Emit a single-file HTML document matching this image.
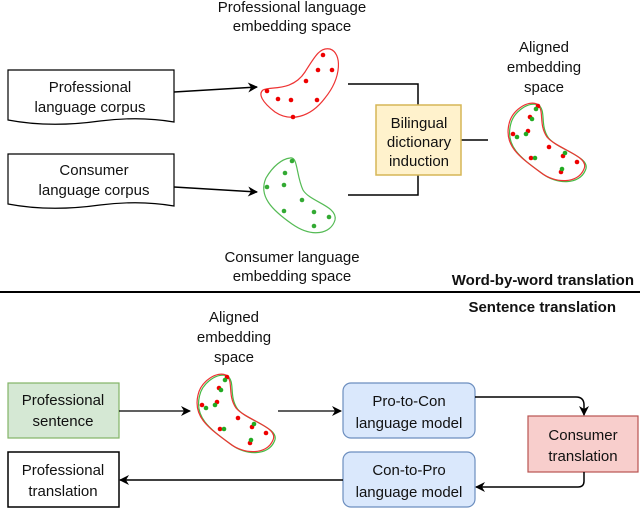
<!DOCTYPE html>
<html><head><style>body{margin:0;background:#fff}svg{display:block}text{font-family:"Liberation Sans",sans-serif;font-size:15px;fill:#111;text-anchor:middle}</style></head><body>
<svg width="640" height="509" viewBox="0 0 640 509">
<defs><marker id="a" markerWidth="10" markerHeight="10" refX="9" refY="5" orient="auto" markerUnits="userSpaceOnUse"><path d="M0,0 L10,5 L0,10 L3,5 Z" fill="#000"/></marker></defs>
<text x="292" y="12">Professional language</text><text x="292" y="31">embedding space</text>
<text x="544" y="52">Aligned</text><text x="544" y="72">embedding</text><text x="544" y="92">space</text>
<text x="292" y="262">Consumer language</text><text x="292" y="281">embedding space</text>
<text x="634" y="285" style="font-weight:bold;text-anchor:end">Word-by-word translation</text>
<path d="M8,70 H174 V122 Q140,116 100,121 Q50,128 8,120 Z" fill="#fff" stroke="#000" stroke-width="1.2"/>
<text x="90" y="92">Professional</text><text x="90" y="112">language corpus</text>
<path d="M8,154 H174 V206 Q140,200 100,205 Q50,212 8,204 Z" fill="#fff" stroke="#000" stroke-width="1.2"/>
<text x="94" y="175">Consumer</text><text x="94" y="195">language corpus</text>
<line x1="174" y1="92" x2="257" y2="87" stroke="#000" stroke-width="1.5" marker-end="url(#a)"/>
<line x1="174" y1="187" x2="257" y2="192" stroke="#000" stroke-width="1.5" marker-end="url(#a)"/>
<path d="M263,90 C270,86 292,92 305,72 C315,56 320,47 330,49 C342,53 342,77 325,98 C310,118 290,122 275,112 C262,102 258,94 263,90 Z" fill="none" stroke="#e33" stroke-width="1.2"/>
<g fill="#e00"><circle cx="323" cy="55" r="2.3"/><circle cx="318" cy="70" r="2.3"/><circle cx="332" cy="70" r="2.3"/><circle cx="306" cy="81" r="2.3"/><circle cx="267" cy="91" r="2.3"/><circle cx="278" cy="99" r="2.3"/><circle cx="291" cy="100" r="2.3"/><circle cx="317" cy="100" r="2.3"/><circle cx="293" cy="117" r="2.3"/></g>
<path d="M290,158 C298,156 296,175 303,190 C310,202 338,206 335,220 C331,234 312,238 292,224 C272,210 258,196 266,178 C273,166 282,159 290,158 Z" fill="none" stroke="#5b5" stroke-width="1.2"/>
<g fill="#3a3"><circle cx="292" cy="161" r="2.3"/><circle cx="285" cy="173" r="2.3"/><circle cx="267" cy="187" r="2.3"/><circle cx="284" cy="185" r="2.3"/><circle cx="302" cy="200" r="2.3"/><circle cx="284" cy="211" r="2.3"/><circle cx="314" cy="212" r="2.3"/><circle cx="329" cy="217" r="2.3"/><circle cx="314" cy="226" r="2.3"/></g>
<path d="M348,84 H418 V105 M348,195 H418 V175 M461,140 H488" fill="none" stroke="#000" stroke-width="1.5"/>
<rect x="376" y="105" width="85" height="70" fill="#fff2cc" stroke="#d6b656" stroke-width="1.5"/>
<text x="419" y="128">Bilingual</text><text x="419" y="147">dictionary</text><text x="419" y="166">induction</text>
<g id="al">
<path d="M509,124 C512,110 528,100 537,104 C545,110 538,124 547,137 C557,149 590,156 584,169 C578,184 555,184 540,172 C518,156 504,145 509,124 Z" fill="none" stroke="#4b4" stroke-width="1.2" transform="translate(1.5,1)"/>
<path d="M509,124 C512,110 528,100 537,104 C545,110 538,124 547,137 C557,149 590,156 584,169 C578,184 555,184 540,172 C518,156 504,145 509,124 Z" fill="none" stroke="#e33" stroke-width="1.2"/>
<g fill="#e00"><circle cx="538" cy="106" r="2.3"/><circle cx="530" cy="117" r="2.3"/><circle cx="528" cy="131" r="2.3"/><circle cx="513" cy="134" r="2.3"/><circle cx="549" cy="147" r="2.3"/><circle cx="531" cy="158" r="2.3"/><circle cx="563" cy="156" r="2.3"/><circle cx="577" cy="162" r="2.3"/><circle cx="561" cy="172" r="2.3"/></g>
<g fill="#2a2"><circle cx="536" cy="109" r="2.3"/><circle cx="532" cy="119" r="2.3"/><circle cx="526" cy="134" r="2.3"/><circle cx="517" cy="137" r="2.3"/><circle cx="535" cy="158" r="2.3"/><circle cx="565" cy="153" r="2.3"/><circle cx="562" cy="169" r="2.3"/></g>
</g>
<line x1="0" y1="292" x2="640" y2="292" stroke="#000" stroke-width="2"/>
<text x="616" y="312" style="font-weight:bold;text-anchor:end">Sentence translation</text>
<text x="234" y="322">Aligned</text><text x="234" y="342">embedding</text><text x="234" y="362">space</text>
<use href="#al" transform="translate(-311,271)"/>
<rect x="8" y="383" width="111" height="55" fill="#d5e8d4" stroke="#82b366" stroke-width="1.2"/>
<text x="63" y="405">Professional</text><text x="63" y="426">sentence</text>
<line x1="119" y1="411" x2="190" y2="411" stroke="#000" stroke-width="1.2" marker-end="url(#a)"/>
<line x1="278" y1="411" x2="341" y2="411" stroke="#000" stroke-width="1.2" marker-end="url(#a)"/>
<rect x="343" y="383" width="132" height="55" rx="8" fill="#dae8fc" stroke="#6c8ebf" stroke-width="1.2"/>
<text x="409" y="406">Pro-to-Con</text><text x="409" y="428">language model</text>
<rect x="343" y="452" width="132" height="55" rx="8" fill="#dae8fc" stroke="#6c8ebf" stroke-width="1.2"/>
<text x="409" y="475">Con-to-Pro</text><text x="409" y="497">language model</text>
<rect x="528" y="416" width="110" height="56" fill="#f8cecc" stroke="#b85450" stroke-width="1.2"/>
<text x="583" y="440">Consumer</text><text x="583" y="461">translation</text>
<path d="M475,397 H576 Q584,397 584,405 V415" fill="none" stroke="#000" stroke-width="1.5" marker-end="url(#a)"/>
<path d="M584,472 V481 Q584,487 578,487 H476" fill="none" stroke="#000" stroke-width="1.5" marker-end="url(#a)"/>
<rect x="8" y="452" width="111" height="55" fill="#fff" stroke="#000" stroke-width="1.5"/>
<text x="63" y="475">Professional</text><text x="63" y="496">translation</text>
<line x1="343" y1="480" x2="120" y2="480" stroke="#000" stroke-width="1.5" marker-end="url(#a)"/>
</svg>
</body></html>
